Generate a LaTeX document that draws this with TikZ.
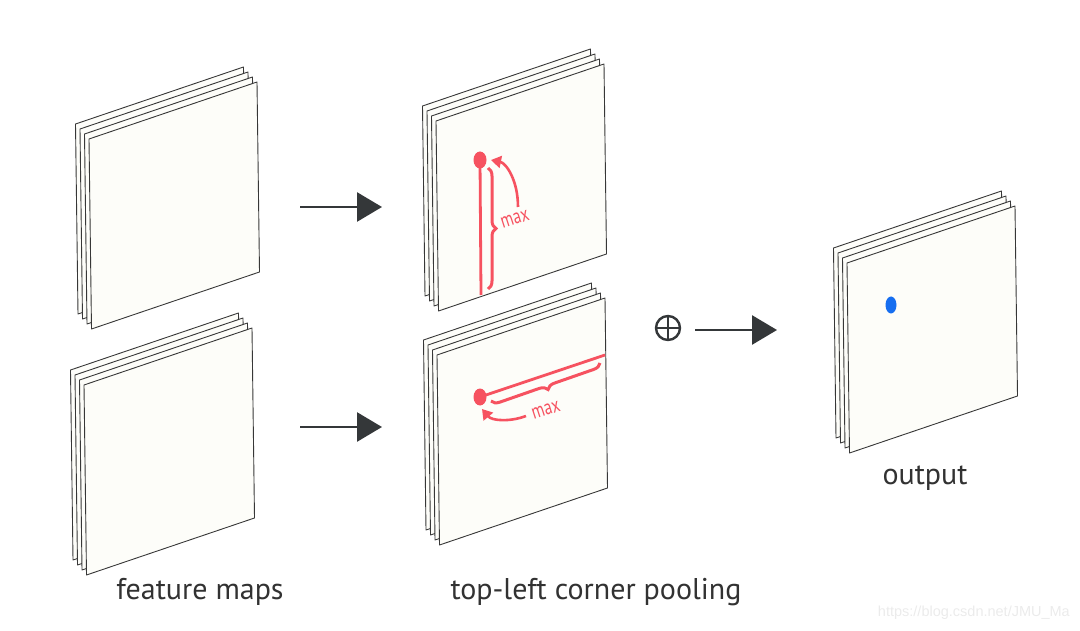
\documentclass[tikz,border=0pt]{standalone}
\usepackage{fontspec}
\setmainfont{PT Sans}
\newfontfamily\markfont{Liberation Sans}
\usetikzlibrary{arrows.meta,decorations.pathreplacing}
\definecolor{sheetline}{RGB}{55,55,55}
\definecolor{sheetfill}{RGB}{253,253,249}
\definecolor{arrowgray}{RGB}{52,55,57}
\definecolor{poolred}{RGB}{246,82,96}
\definecolor{dotblue}{RGB}{22,110,240}
\definecolor{textgray}{RGB}{50,50,50}

\tikzset{
  sheet/.style={fill=sheetfill, draw=sheetline, line width=0.9pt, line join=round},
  flowarrow/.style={arrowgray, line width=2.7pt, -{Triangle[length=25pt,width=29pt]}},
  redline/.style={poolred, line width=2.8pt},
  redbrace/.style={poolred, line width=3pt, decorate, decoration={brace,amplitude=8pt}},
  redarrow/.style={poolred, line width=2.6pt, -{Triangle[length=10pt,width=12pt]}},
  caption/.style={font=\fontsize{30}{34}\selectfont, text=textgray, anchor=base},
  maxlabel/.style={font=\fontsize{21}{21}\selectfont, text=poolred, inner sep=0pt, rotate=18},
}

% stack of four sheets, front sheet top-left corner at (#1,#2)
\newcommand{\mapstack}[2]{
  \foreach \k in {3,2,1,0} {
    \filldraw[sheet] ({#1-4.5*\k},{#2-5*\k}) -- ++(168,-57) -- ++(2.5,190) -- ++(-168,57) -- cycle;
  }
}

\begin{document}
\begin{tikzpicture}[x=1pt,y=-1pt]

\useasboundingbox (0,0) rectangle (1080,631);

% Feature maps (input)
\mapstack{89}{139}
\mapstack{84}{385}

% Pooled maps
\mapstack{436}{121}
\mapstack{437}{355}

% Output map
\mapstack{847}{263}

% Arrows
\coordinate (a1s) at (300,207);
\coordinate (a1e) at (382,207);
\coordinate (a2s) at (300,427);
\coordinate (a2e) at (382,427);
\draw[flowarrow] (a1s) -- (a1e);
\draw[flowarrow] (a2s) -- (a2e);

% Sum and output arrow
\node[circle, draw=arrowgray, line width=2.4pt, minimum size=24pt, inner sep=0pt] (plus) at (668,328) {};
\draw[arrowgray, line width=2.4pt] (plus.north) -- (plus.south);
\draw[arrowgray, line width=2.4pt] (plus.west) -- (plus.east);
\coordinate (a3s) at (695,330);
\coordinate (a3e) at (777,330);
\draw[flowarrow] (a3s) -- (a3e);

% Top-left pooling, vertical direction
\coordinate (cdot) at (480,160);
\coordinate (cend) at (481,295);
\draw[redline] (cdot) -- (cend);
\fill[poolred] (cdot) ellipse (6.5 and 8.5);
\coordinate (cb1) at (488,168);
\coordinate (cb2) at (488,289);
\draw[redbrace] (cb1) -- (cb2);
\node[maxlabel] (cmax) at (515,219) {\scalebox{0.75}[1]{max}};
\coordinate (carr) at (518,207);
\coordinate (ctip) at (491,160);
\draw[redarrow] (carr) .. controls (518,180) and (506,163) .. (ctip);

% Top-left pooling, horizontal direction
\coordinate (ddot) at (480,397);
\coordinate (dend) at (605,355);
\draw[redline] (ddot) -- (dend);
\fill[poolred] (ddot) ellipse (6.5 and 8.5);
\coordinate (db1) at (600,363);
\coordinate (db2) at (491,401);
\draw[redbrace] (db1) -- (db2);
\node[maxlabel] (dmax) at (546,410) {\scalebox{0.75}[1]{max}};
\coordinate (darr) at (526,416);
\coordinate (dtip) at (482,409);
\draw[redarrow] (darr) .. controls (510,422) and (492,421) .. (dtip);

% Output point
\coordinate (odot) at (891,305);
\fill[dotblue] (odot) ellipse (5.5 and 8.5);

% Captions
\node[caption] (lblfeat) at (200,599) {feature maps};
\node[caption] (lblpool) at (596,599) {top-left corner pooling};
\node[caption] (lblout) at (925,484) {output};

% Watermark
\node[font=\markfont\fontsize{14.5}{15}\selectfont, text=black!8, anchor=base east, inner sep=0pt] (wm) at (1070,616) {https://blog.csdn.net/JMU\_Ma};

\end{tikzpicture}
\end{document}
